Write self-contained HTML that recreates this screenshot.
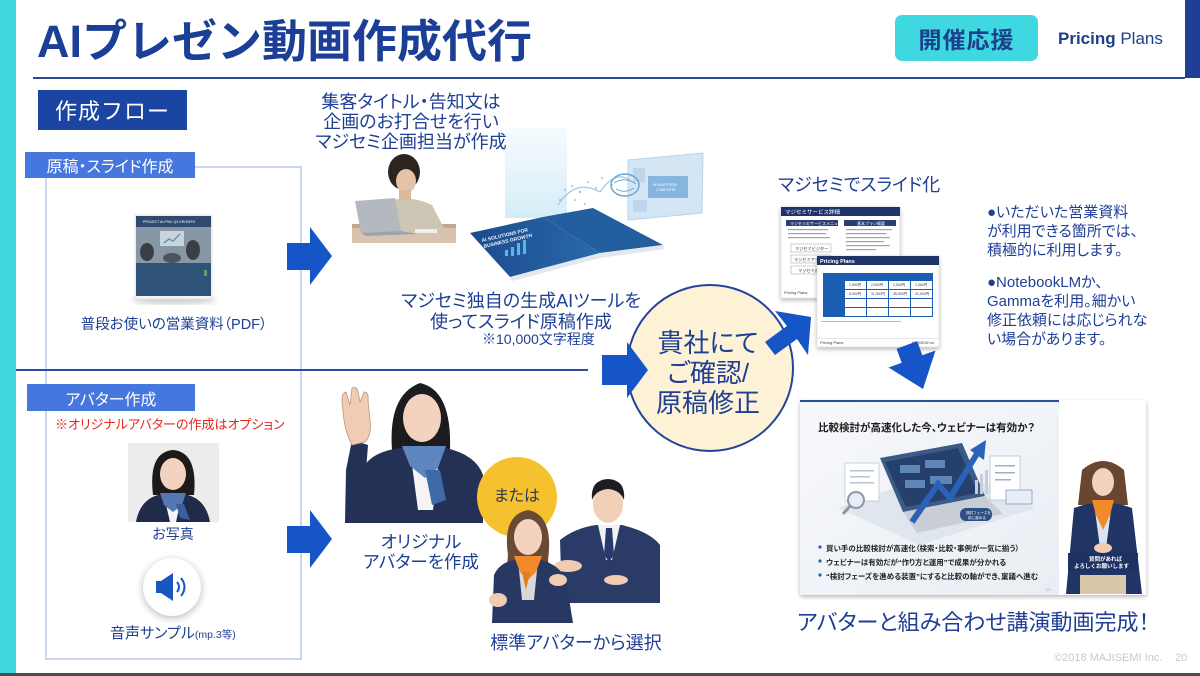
<!DOCTYPE html>
<html><head><meta charset="utf-8">
<style>
html,body{margin:0;padding:0;}
body{width:1200px;height:676px;position:relative;overflow:hidden;background:#fff;font-family:"Liberation Sans","Noto Sans CJK JP",sans-serif;}
.t{position:absolute;white-space:nowrap;color:#1e3f95;font-feature-settings:"palt";}
.c{text-align:center;}
.box{position:absolute;display:flex;align-items:center;justify-content:center;white-space:nowrap;}
</style></head><body>

<svg width="1200" height="676" style="position:absolute;left:0;top:0" xmlns="http://www.w3.org/2000/svg">
<defs>
<filter id="sh" x="-15%" y="-15%" width="135%" height="140%"><feDropShadow dx="0" dy="2" stdDeviation="2.2" flood-color="#000" flood-opacity="0.28"/></filter>
<filter id="bl"><feGaussianBlur stdDeviation="3"/></filter>
<linearGradient id="beam" x1="0" y1="0" x2="0" y2="1"><stop offset="0" stop-color="#eef8fc" stop-opacity="0.6"/><stop offset="1" stop-color="#cfeaf6" stop-opacity="0.9"/></linearGradient>
<linearGradient id="slbg" x1="0" y1="0" x2="1" y2="1"><stop offset="0" stop-color="#f7f8fa"/><stop offset="1" stop-color="#e9eef4"/></linearGradient>
<linearGradient id="bk" x1="0" y1="0" x2="1" y2="0"><stop offset="0" stop-color="#1b4c8c"/><stop offset="1" stop-color="#2a69ad"/></linearGradient>
</defs>

<rect x="0" y="0" width="16" height="673" fill="#3fd6de"/>
<rect x="1185" y="0" width="15" height="78" fill="#1d3f96"/>
<rect x="33" y="77" width="1152" height="2" fill="#2a4a9a"/>
<rect x="0" y="673" width="1200" height="3" fill="#4d4d4d"/>

<rect x="46" y="167" width="255" height="492" fill="none" stroke="#c9d5f3" stroke-width="2"/>
<rect x="16" y="369" width="572" height="2" fill="#2a4ea5"/>

<!-- PDF booklet -->
<ellipse cx="174" cy="300" rx="42" ry="4" fill="#000" opacity="0.2" filter="url(#bl)"/>
<rect x="135" y="215" width="77" height="84" fill="#f4f4f4" stroke="#d8d8d8" stroke-width="0.6"/>
<rect x="136" y="216" width="75" height="80" fill="#2f5279"/>
<rect x="136" y="216" width="75" height="11" fill="#2f4a6e"/>
<rect x="136" y="227" width="75" height="36" fill="#8797a6"/>
<rect x="160" y="231" width="24" height="15" fill="#c9d4dd"/>
<polyline points="164,243 169,239 173,241 180,234" fill="none" stroke="#3b8fb5" stroke-width="1.2"/>
<ellipse cx="147" cy="252" rx="7" ry="9" fill="#3a3f47"/>
<ellipse cx="193" cy="250" rx="7" ry="10" fill="#3a3f47"/>
<ellipse cx="172" cy="258" rx="9" ry="5" fill="#4b535c"/>
<rect x="204" y="270" width="3" height="6" fill="#56a36b"/>
<text x="143" y="223" font-size="3.5" fill="#ffffff" font-family="Liberation Sans">PROJECT ALPHA: Q3 GROWTH</text>

<polygon points="287,243 310,243 310,227 332,256 310,285 310,270 287,270" fill="#1655c8"/>
<polygon points="287,526 310,526 310,510 332,539 310,568 310,553 287,553" fill="#1655c8"/>

<!-- woman at laptop -->
<rect x="352" y="226" width="104" height="17" fill="#d7c3ae"/>
<rect x="352" y="224" width="104" height="4" fill="#c4a78c"/>
<path d="M378,205 Q405,192 432,205 L446,232 L372,232 Z" fill="#cdc6b4"/>
<ellipse cx="404" cy="172" rx="16" ry="18" fill="#2b2522"/>
<ellipse cx="406" cy="181" rx="10" ry="12" fill="#e6c2a6"/>
<rect x="399" y="190" width="12" height="10" fill="#dcb89c"/>
<polygon points="355,201 395,198 401,231 361,233" fill="#b4b8bf"/>
<polygon points="361,233 401,231 418,234 366,236" fill="#9ea3aa"/>
<rect x="415" y="229" width="22" height="4" fill="#f2eee8"/>

<!-- AI brochure -->
<rect x="505" y="128" width="62" height="90" fill="url(#beam)"/>
<polygon points="628,160 703,153 702,213 628,220" fill="#d4e6f4" stroke="#b9d3ea" stroke-width="1"/>
<rect x="648" y="176" width="40" height="22" fill="#86b6df"/>
<rect x="633" y="168" width="12" height="14" fill="#bcd6ec"/>
<rect x="633" y="200" width="14" height="12" fill="#bcd6ec"/>
<text x="653" y="186" font-size="3.6" fill="#fff" font-family="Liberation Sans">AI INVESTION</text>
<text x="656" y="191" font-size="3.6" fill="#fff" font-family="Liberation Sans">COMPLETE</text>
<g fill="#7fb6dd" opacity="0.8">
<circle cx="565" cy="190" r="1"/><circle cx="572" cy="186" r="1"/><circle cx="580" cy="192" r="1.2"/><circle cx="588" cy="182" r="1"/><circle cx="596" cy="188" r="1"/><circle cx="560" cy="200" r="1"/><circle cx="575" cy="200" r="1"/><circle cx="602" cy="178" r="1"/><circle cx="612" cy="185" r="1"/><circle cx="585" cy="204" r="1"/>
</g>
<path d="M558,205 Q575,178 600,192 Q615,170 630,180" fill="none" stroke="#9cc8e6" stroke-width="1.2"/>
<ellipse cx="625" cy="185" rx="14" ry="11" fill="none" stroke="#6aa6d6" stroke-width="1.5"/>
<path d="M614,183 Q625,176 636,184 M616,189 Q625,194 634,188" fill="none" stroke="#6aa6d6" stroke-width="1"/>
<polygon points="470,233 543,217 600,253 510,277" fill="url(#bk)"/>
<polygon points="543,217 593,208 663,245 600,253" fill="#235f9f"/>
<polygon points="510,277 600,253 663,245 665,249 600,258 512,281" fill="#e3e8ee"/>
<g fill="#58b6ec"><rect x="505" y="250" width="3" height="6"/><rect x="511" y="247" width="3" height="9"/><rect x="517" y="243" width="3" height="12"/><rect x="523" y="240" width="3" height="14"/></g>
<text x="482" y="242" font-size="5" fill="#e7f3ff" font-weight="bold" transform="rotate(-13 482 242)" font-family="Liberation Sans">AI SOLUTIONS FOR</text>
<text x="484" y="248" font-size="5" fill="#e7f3ff" font-weight="bold" transform="rotate(-13 484 248)" font-family="Liberation Sans">BUSINESS GROWTH</text>

<!-- circle -->
<circle cx="710" cy="368" r="83" fill="#fdf2d6" stroke="#24449a" stroke-width="2"/>
<polygon points="602,355 627,355 627,342 648,370 627,398 627,385 602,385" fill="#1655c8"/>
<polygon points="765,342 787,326 775,311 811,317 808,355 797,339 775,355" fill="#1655c8"/>

<!-- slide cards -->
<rect x="781" y="207" width="119" height="91" fill="#fff" stroke="#d5d9e0" stroke-width="0.6" filter="url(#sh)"/>
<rect x="781" y="207" width="119" height="9" fill="#1f3468"/>
<text x="785" y="214" font-size="5.5" fill="#fff">マジセミサービス詳細</text>
<rect x="786" y="220" width="52" height="6" fill="#2b3d73"/>
<rect x="844" y="220" width="52" height="6" fill="#2b3d73"/>
<text x="790" y="225" font-size="4" fill="#fff">マジセミのサービスメニュー</text>
<text x="857" y="225" font-size="4" fill="#fff">基本プラン概要</text>
<g fill="#9aa3b0"><rect x="788" y="229" width="40" height="1.2"/><rect x="788" y="233" width="38" height="1.2"/><rect x="788" y="237" width="42" height="1.2"/><rect x="846" y="229" width="46" height="1.2"/><rect x="846" y="233" width="40" height="1.2"/><rect x="846" y="237" width="44" height="1.2"/><rect x="846" y="241" width="38" height="1.2"/><rect x="846" y="245" width="44" height="1.2"/><rect x="846" y="249" width="30" height="1.2"/></g>
<rect x="791" y="244" width="40" height="8" fill="#fff" stroke="#a9b0bb" stroke-width="0.6"/>
<rect x="791" y="255" width="40" height="8" fill="#fff" stroke="#a9b0bb" stroke-width="0.6"/>
<rect x="791" y="266" width="40" height="8" fill="#fff" stroke="#a9b0bb" stroke-width="0.6"/>
<text x="795" y="250" font-size="4.2" fill="#333">マジセミビジター</text>
<text x="794" y="261" font-size="4.2" fill="#333">マジセミアテンダー</text>
<text x="798" y="272" font-size="4.2" fill="#333">マジセミ進</text>
<text x="784" y="294" font-size="4" fill="#444" font-family="Liberation Sans">Pricing Plans</text>

<rect x="817" y="256" width="122" height="91" fill="#fff" stroke="#d5d9e0" stroke-width="0.6" filter="url(#sh)"/>
<rect x="817" y="256" width="122" height="9" fill="#1f3468"/>
<text x="820" y="263" font-size="5.5" fill="#fff" font-weight="bold" font-family="Liberation Sans">Pricing Plans</text>
<rect x="823" y="273" width="110" height="44" fill="#1a5fb4"/>
<g fill="#fff">
<rect x="845" y="281" width="21" height="8"/><rect x="867" y="281" width="21" height="8"/><rect x="889" y="281" width="21" height="8"/><rect x="911" y="281" width="21" height="8"/>
<rect x="845" y="290" width="21" height="8"/><rect x="867" y="290" width="21" height="8"/><rect x="889" y="290" width="21" height="8"/><rect x="911" y="290" width="21" height="8"/>
<rect x="845" y="299" width="21" height="8"/><rect x="867" y="299" width="21" height="8"/><rect x="889" y="299" width="21" height="8"/><rect x="911" y="299" width="21" height="8"/>
<rect x="845" y="308" width="21" height="8"/><rect x="867" y="308" width="21" height="8"/><rect x="889" y="308" width="21" height="8"/><rect x="911" y="308" width="21" height="8"/>
</g>
<g font-size="3.5" fill="#333" font-family="Liberation Sans"><text x="849" y="286">1,000円</text><text x="871" y="286">2,000円</text><text x="893" y="286">2,000円</text><text x="915" y="286">1,000円</text>
<text x="849" y="295">5,000円</text><text x="871" y="295">11,000円</text><text x="893" y="295">35,000円</text><text x="915" y="295">31,000円</text></g>
<rect x="821" y="321" width="80" height="1" fill="#b5bcc6"/>
<rect x="817" y="338" width="122" height="0.6" fill="#d0d5dc"/>
<text x="820" y="344" font-size="4" fill="#444" font-family="Liberation Sans">Pricing Plans</text>
<text x="912" y="344" font-size="3.5" fill="#444" font-family="Liberation Sans">MAJISEMI Inc.</text>

<polygon points="896.6,348.7 917.2,341.1 922.3,355.2 935.5,350.5 923,389 888.5,367.5 901.7,362.8" fill="#1655c8"/>

<!-- big slide -->
<rect x="800" y="400" width="346" height="195" fill="#fff" filter="url(#sh)"/>
<rect x="800" y="400" width="259" height="195" fill="url(#slbg)"/>
<rect x="800" y="400" width="259" height="2" fill="#2a4ea0"/>
<polygon points="838,508 950,468 1035,508 920,545" fill="#e0e6ee"/>
<rect x="845" y="463" width="34" height="38" fill="#fff" stroke="#c0c8d4" stroke-width="0.8"/>
<g fill="#b8c3d2"><rect x="850" y="470" width="24" height="1.5"/><rect x="850" y="476" width="20" height="1.5"/><rect x="850" y="482" width="24" height="1.5"/></g>
<circle cx="856" cy="500" r="8" fill="#e7eef6" stroke="#8a97a8" stroke-width="2"/>
<line x1="850" y1="506" x2="843" y2="514" stroke="#8a97a8" stroke-width="3"/>
<polygon points="880,458 962,443 985,496 903,512" fill="#3c5a86"/>
<polygon points="885,462 958,448 978,493 906,507" fill="#24406b"/>
<g fill="#5e86b8"><rect x="900" y="465" width="20" height="8"/><rect x="925" y="460" width="20" height="8"/><rect x="905" y="480" width="20" height="8"/><rect x="930" y="476" width="22" height="8"/></g>
<polygon points="903,512 985,496 1003,514 917,533" fill="#c9ced6"/>
<polyline points="912,522 938,484 950,498 978,452" fill="none" stroke="#2b62b8" stroke-width="6"/>
<polygon points="970,450 986,440 984,460" fill="#2b62b8"/>
<g fill="#c5cfdc"><rect x="975" y="480" width="3" height="14"/><rect x="980" y="474" width="3" height="20"/><rect x="985" y="470" width="3" height="24"/></g>
<rect x="990" y="456" width="30" height="44" fill="#fff" stroke="#b9c3d0" stroke-width="0.8"/>
<g fill="#9fb0c6"><rect x="995" y="465" width="20" height="1.5"/><rect x="995" y="472" width="20" height="1.5"/><rect x="995" y="479" width="16" height="1.5"/></g>
<rect x="1006" y="490" width="26" height="14" fill="#e8eef6" stroke="#7f9cc4" stroke-width="0.8"/>
<rect x="960" y="508" width="32" height="13" rx="6" fill="#2d4f86"/>
<text x="966" y="514" font-size="3.6" fill="#fff">検討フェーズを</text>
<text x="968" y="519" font-size="3.6" fill="#fff">前に進める</text>
<g fill="#2a5db5"><circle cx="820" cy="547" r="1.6"/><circle cx="820" cy="561" r="1.6"/><circle cx="820" cy="575" r="1.6"/></g>
<text x="1045" y="591" font-size="3.5" fill="#aaa" font-family="Liberation Sans">123</text>

<!-- slide avatar -->
<path d="M1082,470 Q1103,452 1124,470 L1128,505 L1078,505 Z" fill="#6a4630"/>
<ellipse cx="1103" cy="482" rx="11" ry="14" fill="#f2d2bd"/>
<path d="M1074,508 Q1103,497 1132,508 L1142,594 L1066,594 Z" fill="#203566"/>
<polygon points="1094,503 1112,503 1106,548 1100,548" fill="#d8e4f2"/>
<polygon points="1092,500 1114,500 1110,515 1103,530 1096,515" fill="#f08a2a"/>
<rect x="1080" y="575" width="46" height="19" fill="#d9c8a7"/>
<ellipse cx="1103" cy="548" rx="9" ry="5" fill="#f0ccb3"/>
<rect x="1068" y="553" width="70" height="18" fill="#1d3263"/>
<text x="1089" y="561" font-size="5.5" fill="#fff" font-weight="bold">質問があれば</text>
<text x="1074" y="568" font-size="5.5" fill="#fff" font-weight="bold">よろしくお願いします</text>

<!-- original avatar -->
<path d="M352,440 L346,470 L345,523 L362,523 L368,445 Z" fill="#233157"/>
<path d="M343,410 Q340,393 346,392 L350,405 L352,388 Q357,386 358,392 L360,402 L364,392 Q369,392 368,400 L370,420 Q372,435 365,442 L352,445 Q344,430 343,410 Z" fill="#f0ccb3" stroke="#b89680" stroke-width="0.8"/>
<path d="M392,450 Q388,395 420,383 Q452,390 450,450 L455,480 L390,480 Z" fill="#1c1b20"/>
<ellipse cx="422" cy="418" rx="19" ry="24" fill="#f3d2bf"/>
<path d="M404,400 Q420,386 440,402 Q440,392 422,388 Q404,390 404,400 Z" fill="#1c1b20"/>
<path d="M362,470 Q370,452 400,448 L446,448 Q476,455 483,475 L483,523 L362,523 Z" fill="#233157"/>
<polygon points="410,450 440,450 433,510 418,510" fill="#f4f4f4"/>
<polygon points="402,446 446,446 438,468 425,478 410,466" fill="#5d86bf"/>
<polygon points="425,470 440,470 446,500 432,505" fill="#3e6aa8"/>

<circle cx="517" cy="497" r="40" fill="#f5c12e"/>

<!-- standard man -->
<path d="M560,540 Q575,528 596,525 L622,525 Q650,532 660,545 L660,603 L562,603 Z" fill="#2a3b68"/>
<polygon points="598,525 620,525 612,560 606,560" fill="#f2f2f2"/>
<polygon points="606,528 612,528 614,555 609,562 604,555" fill="#263a6e"/>
<ellipse cx="608" cy="504" rx="15" ry="19" fill="#f2d0b8"/>
<path d="M592,500 Q590,480 608,479 Q626,480 624,500 Q620,490 608,489 Q596,490 592,500 Z" fill="#1e1d22"/>
<ellipse cx="568" cy="566" rx="14" ry="6" fill="#f0ccb3"/>
<ellipse cx="616" cy="580" rx="12" ry="5" fill="#f0ccb3"/>

<!-- standard woman -->
<path d="M508,555 Q502,515 528,510 Q554,515 548,560 L550,575 L506,575 Z" fill="#6b4a35"/>
<ellipse cx="528" cy="537" rx="14" ry="18" fill="#f3d2bf"/>
<path d="M494,575 Q500,562 515,560 L541,560 Q560,565 566,580 L573,623 L492,623 Z" fill="#273863"/>
<polygon points="518,560 538,560 534,600 522,600" fill="#d8d8d8"/>
<polygon points="514,556 542,556 536,572 528,580 520,572" fill="#f08a2a"/>
<polygon points="522,572 530,572 526,590" fill="#e67a1e"/>
<ellipse cx="498" cy="600" rx="9" ry="7" fill="#f0ccb3"/>
<ellipse cx="558" cy="580" rx="9" ry="6" fill="#f0ccb3"/>

<!-- photo -->
<rect x="128" y="443" width="91" height="79" fill="#ececec"/>
<path d="M153,495 Q148,452 173,450 Q198,452 194,495 Z" fill="#1f1a1a"/>
<ellipse cx="173" cy="474" rx="13" ry="16" fill="#f2d2c0"/>
<path d="M160,462 Q173,450 187,465 Q186,455 173,454 Q160,455 160,462 Z" fill="#1f1a1a"/>
<path d="M136,522 Q140,500 158,495 L188,495 Q206,500 210,522 Z" fill="#1f2b48"/>
<polygon points="164,496 182,496 176,522 170,522" fill="#f4f4f4"/>
<polygon points="160,493 186,493 182,505 173,512 164,505" fill="#5577b3"/>
<polygon points="176,504 184,504 190,520 180,518" fill="#3c5e9c"/>
</svg>

<div style="position:absolute;left:143px;top:558px;width:58px;height:58px;border-radius:50%;background:#fff;box-shadow:0 2px 8px rgba(0,0,0,0.28);"></div>
<svg width="1200" height="676" style="position:absolute;left:0;top:0">
<rect x="156" y="581" width="6" height="12" fill="#1757bf"/>
<polygon points="161,581 173,573 173,601 161,593" fill="#1757bf"/>
<path d="M177,582 Q181,587 177,592" fill="none" stroke="#1757bf" stroke-width="2"/>
<path d="M181,578 Q188,587 181,596" fill="none" stroke="#1757bf" stroke-width="2"/>
</svg>

<div class="t" style="left:37px;top:13px;font-size:45px;line-height:58px;font-weight:700;color:#1b3e96;font-feature-settings:normal;">AIプレゼン動画作成代行</div>
<div class="box" style="left:895px;top:15px;width:143px;height:46px;background:#3fd8e1;border-radius:7px;font-size:23px;font-weight:700;color:#1e3f8c;letter-spacing:1px;">開催応援</div>
<div class="t" style="left:1058px;top:29px;font-size:17px;line-height:20px;color:#1e3f8c;"><b>Pricing</b> Plans</div>

<div class="box" style="left:38px;top:90px;width:149px;height:40px;background:#1b45a3;color:#fff;font-size:22px;letter-spacing:1px;">作成フロー</div>
<div class="box" style="left:25px;top:152px;width:170px;height:26px;background:#4677de;color:#fff;font-size:16px;font-feature-settings:'palt';">原稿・スライド作成</div>
<div class="box" style="left:27px;top:384px;width:168px;height:27px;background:#4677de;color:#fff;font-size:16px;font-feature-settings:'palt';">アバター作成</div>

<div class="t c" style="left:74px;top:315px;width:200px;font-size:14.5px;line-height:20px;">普段お使いの営業資料（PDF）</div>
<div class="t" style="left:55px;top:416px;font-size:13px;line-height:18px;color:#e8261e;">※オリジナルアバターの作成はオプション</div>
<div class="t c" style="left:133px;top:525px;width:80px;font-size:14px;line-height:18px;">お写真</div>
<div class="t" style="left:110px;top:624px;font-size:15px;line-height:20px;">音声サンプル<span style="font-size:10.5px;">(mp.3等)</span></div>

<div class="t c" style="left:291px;top:92px;width:240px;font-size:18px;line-height:20px;">集客タイトル・告知文は<br>企画のお打合せを行い<br>マジセミ企画担当が作成</div>
<div class="t c" style="left:371px;top:291px;width:300px;font-size:18px;line-height:21px;">マジセミ独自の生成AIツールを<br>使ってスライド原稿作成</div>
<div class="t" style="left:482px;top:330px;font-size:14px;line-height:18px;">※10,000文字程度</div>

<div class="t c" style="left:608px;top:328px;width:200px;font-size:26px;line-height:30px;">貴社にて<br>ご確認/<br>原稿修正</div>

<div class="t c" style="left:331px;top:532px;width:180px;font-size:17.5px;line-height:20px;">オリジナル<br>アバターを作成</div>
<div class="t c" style="left:477px;top:487px;width:80px;font-size:16px;line-height:20px;color:#2d3a55;">または</div>
<div class="t c" style="left:476px;top:632px;width:200px;font-size:18px;line-height:22px;">標準アバターから選択</div>

<div class="t" style="left:778px;top:174px;font-size:18px;line-height:22px;">マジセミでスライド化</div>
<div class="t" style="left:987px;top:203px;font-size:15px;line-height:19px;">●いただいた営業資料<br>が利用できる箇所では、<br>積極的に利用します。</div>
<div class="t" style="left:987px;top:273px;font-size:15px;line-height:19px;">●NotebookLMか、<br>Gammaを利用。細かい<br>修正依頼には応じられな<br>い場合があります。</div>

<div class="t" style="left:818px;top:421px;font-size:10.5px;line-height:14px;font-weight:700;color:#1a1a1a;">比較検討が高速化した今、ウェビナーは有効か？</div>
<div class="t" style="left:826px;top:542px;font-size:7.5px;line-height:14px;font-weight:700;color:#222;">買い手の比較検討が高速化（検索・比較・事例が一気に揃う）<br>ウェビナーは有効だが“作り方と運用”で成果が分かれる<br>“検討フェーズを進める装置”にすると比較の軸ができ、稟議へ進む</div>

<div class="t" style="left:797px;top:609px;font-size:22px;line-height:28px;">アバターと組み合わせ講演動画完成！</div>

<div class="t" style="left:1054px;top:651px;font-size:11px;line-height:14px;color:#c8c8c8;font-feature-settings:normal;">©2018 MAJISEMI Inc.</div>
<div class="t" style="left:1175px;top:651px;font-size:11px;line-height:14px;color:#c8c8c8;">20</div>

</body></html>
